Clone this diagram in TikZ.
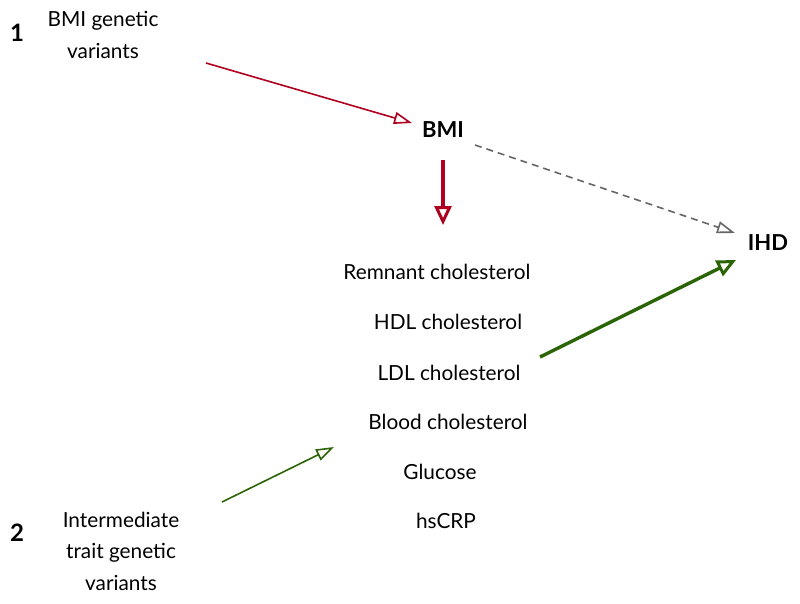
\documentclass[tikz,border=0pt]{standalone}
\usepackage{fontspec}
\setmainfont{Lato}
\usetikzlibrary{arrows.meta}
\definecolor{cred}{HTML}{B00020}
\definecolor{cgreen}{HTML}{2B6405}
\definecolor{cgrey}{HTML}{666666}
\begin{document}
\begin{tikzpicture}[x=1pt,y=-1pt,
  txt/.style={font=\fontsize{20.8}{32}\selectfont, align=center, inner sep=0},
  bold/.style={font=\fontsize{22}{24}\selectfont\bfseries, inner sep=0},
  num/.style={font=\fontsize{24}{24}\selectfont\bfseries, inner sep=0},
  thinarr/.style={line width=1.6pt, -{Triangle[open,length=18pt,width=12pt,line width=1.6pt]}},
  thickarr/.style={line width=3.4pt, -{Triangle[open,length=19pt,width=17pt,line width=3pt]}}]
\useasboundingbox (0,0) rectangle (800,603);
\node[num] (n1) at (17,33) {1};
\node[txt] (bgv) at (103,35) {BMI genetic\\variants};
\node[bold] (bmi) at (443,130) {BMI};
\node[bold] (ihd) at (768,243) {IHD};
\node[txt] (rc) at (437,272) {Remnant cholesterol};
\node[txt] (hdl) at (448,322) {HDL cholesterol};
\node[txt] (ldl) at (449,373) {LDL cholesterol};
\node[txt] (blood) at (448,422) {Blood cholesterol};
\node[txt] (glu) at (440,472) {Glucose};
\node[txt] (crp) at (446,521) {hsCRP};
\node[num] (n2) at (17,533) {2};
\node[txt, font=\fontsize{20.8}{31.5}\selectfont] (itg) at (121,551) {Intermediate\\trait genetic\\variants};
\coordinate (a1) at (206,63);
\coordinate (a2) at (412,123);
\coordinate (b1) at (443,160);
\coordinate (b2) at (443,225);
\coordinate (c1) at (475,145);
\coordinate (c2) at (735,233);
\coordinate (d1) at (540,357);
\coordinate (d2) at (736,260);
\coordinate (e1) at (222,502);
\coordinate (e2) at (334,447);
\draw[thinarr, cred] (a1) -- (a2);
\draw[thickarr, cred] (b1) -- (b2);
\draw[thinarr, cgrey, dashed, dash pattern=on 7pt off 5pt] (c1) -- (c2);
\draw[thickarr, cgreen] (d1) -- (d2);
\draw[thinarr, cgreen] (e1) -- (e2);
\end{tikzpicture}
\end{document}
